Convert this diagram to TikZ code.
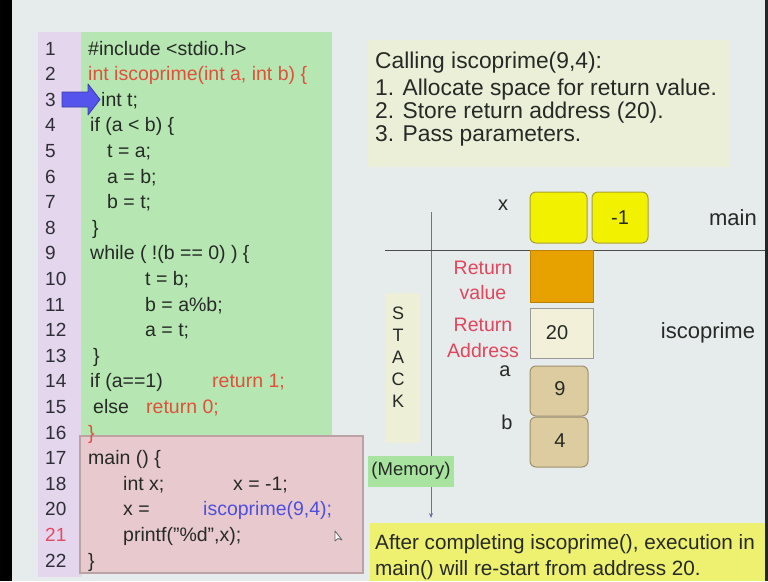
\documentclass[tikz,border=0pt]{standalone}
\usepackage{fontspec}
\setmainfont{Liberation Sans}
\usetikzlibrary{arrows.meta}
\definecolor{bgc}{HTML}{E6EBEB}
\definecolor{lav}{HTML}{E4D6EC}
\definecolor{codegreen}{HTML}{B6E6B2}
\definecolor{pinkbox}{HTML}{E8CACE}
\definecolor{codetxt}{HTML}{262A26}
\definecolor{numtxt}{HTML}{2E2E38}
\definecolor{redtxt}{HTML}{E0503A}
\definecolor{rednum}{HTML}{E44A62}
\definecolor{bluetxt}{HTML}{4E4EE0}
\definecolor{callbox}{HTML}{ECEFD8}
\definecolor{yelbox}{HTML}{F2F200}
\definecolor{yelborder}{HTML}{A8A030}
\definecolor{orangebox}{HTML}{E8A200}
\definecolor{creambox}{HTML}{F2F0D8}
\definecolor{tanbox}{HTML}{DCCCA0}
\definecolor{tanborder}{HTML}{A09070}
\definecolor{memgreen}{HTML}{A8E4A0}
\definecolor{bottomyel}{HTML}{EEF070}
\definecolor{stackband}{HTML}{EDF0D6}
\definecolor{labelred}{HTML}{E0465C}
\definecolor{stackline}{HTML}{6A70A8}
\definecolor{arrowblue}{HTML}{5555EE}
\tikzset{
  code/.style={anchor=base west, inner sep=0pt, font=\fontsize{19.5}{22}\selectfont, text=codetxt},
  lnum/.style={anchor=base west, inner sep=0pt, font=\fontsize{19}{22}\selectfont, text=numtxt},
  rtext/.style={anchor=base west, inner sep=0pt, font=\fontsize{22.8}{24}\selectfont, text=codetxt},
  btext/.style={anchor=base west, inner sep=0pt, font=\fontsize{20.7}{24}\selectfont, text=codetxt},
  slabel/.style={inner sep=0pt, font=\fontsize{20}{24}\selectfont, text=codetxt},
  rlabel/.style={inner sep=0pt, font=\fontsize{19.5}{24}\selectfont, text=labelred},
  stackletter/.style={inner sep=0pt, font=\fontsize{18}{20}\selectfont, text=codetxt},
  cell/.style={draw, line width=1pt},
}
\begin{document}
\begin{tikzpicture}[x=1pt,y=-1pt]
\useasboundingbox (0,0) rectangle (768,581);
% background
\fill[bgc] (0,0) rectangle (768,581);
\fill[black] (0,0) rectangle (12,581);
\fill[black!85] (765,0) rectangle (768,581);
% code panels
\fill[lav] (38,32) rectangle (82,577);
\fill[codegreen] (81,32) rectangle (332,436);
\draw[pinkbox!80!black, fill=pinkbox, line width=1.2pt] (80,436) rectangle (363,573);
% line numbers
\node[lnum] (n1) at (45,55) {1};
\node[lnum] (n2) at (45,80.6) {2};
\node[lnum] (n3) at (45,106.2) {3};
\node[lnum] (n4) at (45,131.8) {4};
\node[lnum] (n5) at (45,157.4) {5};
\node[lnum] (n6) at (45,183) {6};
\node[lnum] (n7) at (45,208.6) {7};
\node[lnum] (n8) at (45,234.2) {8};
\node[lnum] (n9) at (45,259.8) {9};
\node[lnum] (n10) at (45,285.4) {10};
\node[lnum] (n11) at (45,311) {11};
\node[lnum] (n12) at (45,336.6) {12};
\node[lnum] (n13) at (45,362.2) {13};
\node[lnum] (n14) at (45,387.8) {14};
\node[lnum] (n15) at (45,413.4) {15};
\node[lnum] (n16) at (45,439) {16};
\node[lnum] (n17) at (45,464.6) {17};
\node[lnum] (n18) at (45,490.2) {18};
\node[lnum] (n20) at (45,515.8) {20};
\node[lnum, text=rednum] (n21) at (45,541.4) {21};
\node[lnum] (n22) at (45,567) {22};
% code
\node[code] (c1) at (88,55) {\#include <stdio.h>};
\node[code, text=redtxt] (c2) at (88,80.6) {int iscoprime(int a, int b) \{};
\node[code] (c3) at (101,106.2) {int t;};
\node[code] (c4) at (90,131.8) {if (a < b) \{};
\node[code] (c5) at (107,157.4) {t = a;};
\node[code] (c6) at (107,183) {a = b;};
\node[code] (c7) at (107,208.6) {b = t;};
\node[code] (c8) at (92,234.2) {\}};
\node[code] (c9) at (90,259.8) {while ( !(b == 0) ) \{};
\node[code] (c10) at (145,285.4) {t = b;};
\node[code] (c11) at (145,311) {b = a\%b;};
\node[code] (c12) at (145,336.6) {a = t;};
\node[code] (c13) at (93,362.2) {\}};
\node[code] (c14) at (90,387.8) {if (a==1)};
\node[code, text=redtxt] (c14r) at (212,387.8) {return 1;};
\node[code] (c15) at (93,413.4) {else};
\node[code, text=redtxt] (c15r) at (146,413.4) {return 0;};
\node[code, text=redtxt] (c16) at (88,439) {\}};
\node[code] (c17) at (88,464.6) {main () \{};
\node[code] (c18) at (123,490.2) {int x;};
\node[code] (c18b) at (233,490.2) {x = -1;};
\node[code] (c20) at (123,515.8) {x =};
\node[code, text=bluetxt] (c20b) at (203,515.8) {iscoprime(9,4);};
\node[code] (c21) at (123,541.4) {printf("\%d",x);};
\node[code] (c22) at (88,567) {\}};
% mouse cursor
\draw[black!60, fill=white, line width=0.8pt, line join=round] (335,531) -- (335,541) -- (338,538.5) -- (342,540) -- cycle;
% blue pointer arrow
\draw[arrowblue!70!black, fill=arrowblue, line width=0.8pt, line join=round]
  (62,92) -- (88,92) -- (88,84) -- (100,99.5) -- (88,115) -- (88,107) -- (62,107) -- cycle;
% calling box
\fill[callbox] (367,40) rectangle (730,167);
\node[rtext] (t0) at (375,68) {Calling iscoprime(9,4):};
\node[rtext] (t1) at (375,95) {1. Allocate space for return value.};
\node[rtext] (t2) at (375,118) {2. Store return address (20).};
\node[rtext] (t3) at (375,141) {3. Pass parameters.};
% stack band
\fill[stackband] (385,293) rectangle (420,443);
\node[stackletter] (sS) at (398,313) {S};
\node[stackletter] (sT) at (398,335) {T};
\node[stackletter] (sA) at (398,357) {A};
\node[stackletter] (sC) at (398,379) {C};
\node[stackletter] (sK) at (398,401) {K};
% lines
\coordinate (vtop) at (431,212);
\coordinate (vbot) at (431,518);
\draw[stackline, line width=0.9pt, -{Stealth[length=5pt,width=4pt]}] (vtop) -- (vbot);
\coordinate (hl) at (385,250);
\coordinate (hr) at (765,250);
\draw[black!70, line width=1pt] (hl) -- (hr);
% main frame
\node[slabel] (xl) at (503,205) {x};
\draw[cell, yelborder, fill=yelbox, rounded corners=6pt] (530,192) rectangle (587,243);
\node (xbox1) at (558.5,217.5) {};
\draw[cell, yelborder, fill=yelbox, rounded corners=6pt] (592,192) rectangle (648,243);
\node[slabel] (xbox2) at (620,218) {-1};
\node[slabel, font=\fontsize{22}{24}\selectfont] (mainl) at (733,218) {main};
% iscoprime frame
\draw[cell, orangebox!80!black, fill=orangebox] (530,250) rectangle (593,302);
\node[rlabel] (rv1) at (483,268) {Return};
\node[rlabel] (rv2) at (483,293) {value};
\draw[cell, black!40, fill=creambox] (530,308) rectangle (593,358);
\node[slabel] (ra) at (557,333) {20};
\node[rlabel] (ra1) at (483,325) {Return};
\node[rlabel] (ra2) at (483,351) {Address};
\node[slabel, font=\fontsize{22}{24}\selectfont] (iscl) at (708,333) {iscoprime};
\node[slabel] (al) at (505,371) {a};
\draw[cell, tanborder, fill=tanbox, rounded corners=6pt] (530,366) rectangle (588,416);
\node[slabel] (av) at (560,389) {9};
\node[slabel] (bl) at (507,422) {b};
\draw[cell, tanborder, fill=tanbox, rounded corners=6pt] (530,417) rectangle (588,467);
\node[slabel] (bv) at (560,441) {4};
% memory label
\node[fill=memgreen, inner xsep=3pt, minimum height=31pt, font=\fontsize{18.5}{20}\selectfont, text=codetxt] (mem) at (411,471) {(Memory)};
% bottom note
\fill[bottomyel] (370,523) rectangle (765,581);
\node[btext] (b1) at (375,549.5) {After completing iscoprime(), execution in};
\node[btext] (b2) at (375,575.5) {main() will re-start from address 20.};
\end{tikzpicture}
\end{document}
